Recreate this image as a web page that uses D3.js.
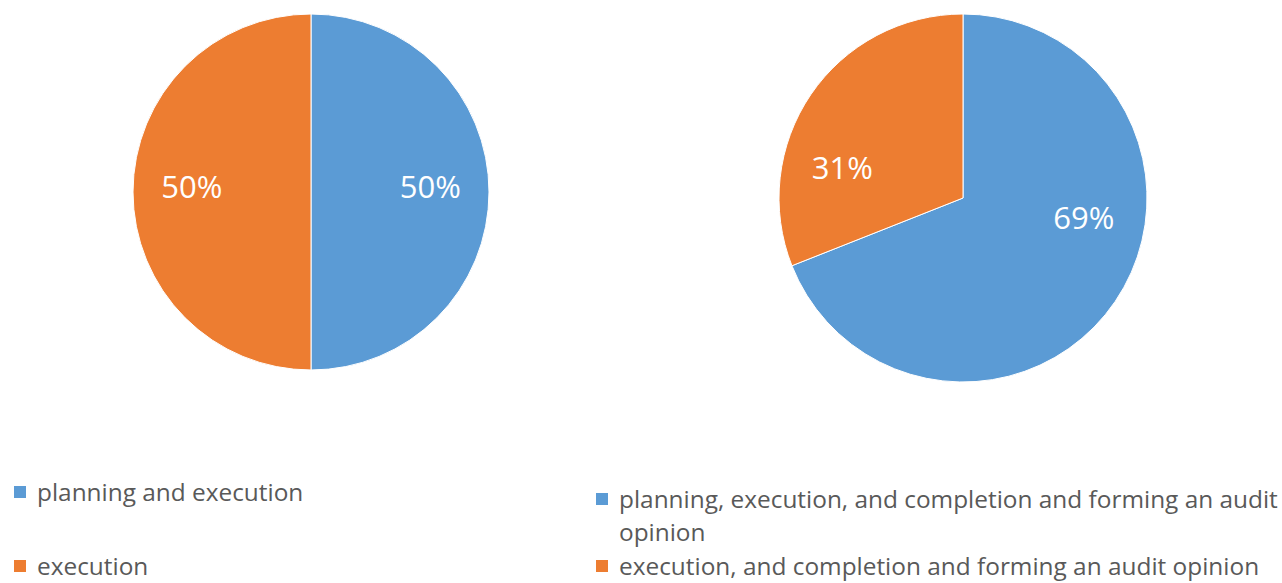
<!DOCTYPE html>
<html>
<head>
<meta charset="utf-8">
<script src="https://cdn.jsdelivr.net/npm/d3@7"></script>
<style>
  html, body { margin: 0; padding: 0; background: #fff; }
  svg { display: block; font-family: "Open Sans", sans-serif; }
</style>
</head>
<body>
<div id="chart"></div>
<script>
const leftCategories = ["planning and execution", "execution"];
const leftValues = [50, 50];
const rightCategories = [
  "planning, execution, and completion and forming an audit opinion",
  "execution, and completion and forming an audit opinion",
];
const rightValues = [69, 31];
const sliceColors = ["#5B9BD5", "#ED7D31"];

const width = 1282;
const height = 583;

const svg = d3
  .select("#chart")
  .append("svg")
  .attr("width", width)
  .attr("height", height);

const color = d3.scaleOrdinal().domain([0, 1]).range(sliceColors);

function drawPie(cfg) {
  const pie = d3.pie().sort(null).value((d) => d);
  const arcs = pie(cfg.values);
  const total = d3.sum(cfg.values);

  const g = svg
    .append("g")
    .attr("transform", `translate(${cfg.cx},${cfg.cy})`);

  const arc = d3.arc().innerRadius(0).outerRadius(cfg.r);

  g.selectAll("path")
    .data(arcs)
    .enter()
    .append("path")
    .attr("d", arc)
    .attr("fill", (d, i) => color(i))
    .attr("stroke", "#fff")
    .attr("stroke-width", 1);

  // labels sit a bit inside, nudged toward the horizontal like Excel's best fit
  g.selectAll("text")
    .data(arcs)
    .enter()
    .append("text")
    .attr("transform", (d) => {
      const a = (d.startAngle + d.endAngle) / 2;
      const h = a < Math.PI ? Math.PI / 2 : (3 * Math.PI) / 2;
      const a2 = h + (a - h) * 0.34;
      const rr = cfg.r * 0.67;
      return `translate(${Math.sin(a2) * rr},${-Math.cos(a2) * rr - 5})`;
    })
    .attr("text-anchor", "middle")
    .attr("dy", "0.35em")
    .attr("fill", "#fff")
    .attr("font-size", 31)
    .text((d) => `${Math.round((d.data / total) * 100)}%`);
}

function drawLegend(cfg) {
  const g = svg.append("g");
  cfg.categories.forEach((name, i) => {
    const y = cfg.rows[i];
    g.append("rect")
      .attr("x", cfg.x)
      .attr("y", y - 6)
      .attr("width", 12)
      .attr("height", 12)
      .attr("fill", color(i));

    const text = g
      .append("text")
      .attr("x", cfg.x + 23)
      .attr("y", y)
      .attr("dy", "0.35em")
      .attr("fill", "#595959")
      .attr("font-size", cfg.fontSize);

    // simple word wrap
    const words = name.split(" ");
    let line = [];
    let tspan = text.append("tspan").attr("x", cfg.x + 23);
    words.forEach((w) => {
      line.push(w);
      tspan.text(line.join(" "));
      if (tspan.node().getComputedTextLength() > cfg.maxWidth && line.length > 1) {
        line.pop();
        tspan.text(line.join(" "));
        line = [w];
        tspan = text
          .append("tspan")
          .attr("x", cfg.x + 23)
          .attr("dy", cfg.lineHeight)
          .text(w);
      }
    });
  });
}

drawPie({ cx: 311, cy: 192, r: 178, values: leftValues });
drawPie({ cx: 963, cy: 198, r: 184, values: rightValues });

drawLegend({
  x: 14,
  rows: [492, 566],
  categories: leftCategories,
  fontSize: 24.4,
  maxWidth: 600,
  lineHeight: 33,
});
drawLegend({
  x: 596,
  rows: [499, 566],
  categories: rightCategories,
  fontSize: 24.4,
  maxWidth: 664,
  lineHeight: 33,
});
</script>
</body>
</html>
